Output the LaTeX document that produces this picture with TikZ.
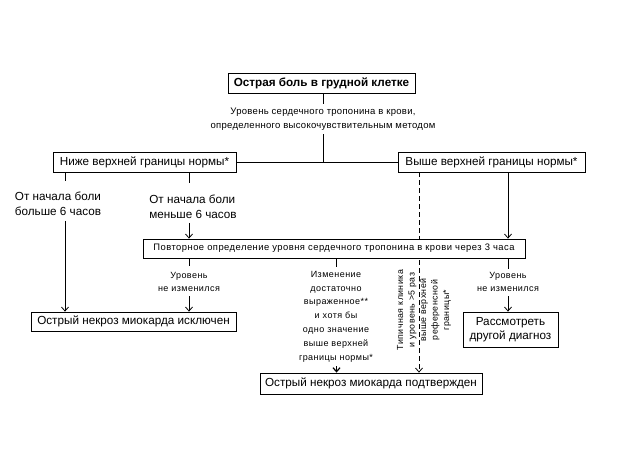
\documentclass[tikz,border=0pt]{standalone}
\usepackage{fontspec}
\setmainfont{Liberation Sans}
\newfontfamily\spacedA[LetterSpace=3]{Liberation Sans}
\newfontfamily\spacedB[LetterSpace=5]{Liberation Sans}
\usetikzlibrary{arrows.meta,backgrounds}
\newcommand\fbig{\fontsize{11.7}{14.5}\selectfont}
\newcommand\fmid{\spacedA\fontsize{9.5}{14}\selectfont}
\newcommand\frep{\spacedB\fontsize{9.4}{14}\selectfont}
\newcommand\fsml{\spacedB\fontsize{9}{13.8}\selectfont}
\newcommand\frot{\spacedB\fontsize{8.8}{11.5}\selectfont}
\begin{document}
\begin{tikzpicture}[x=1pt,y=-1pt,
  box/.style={draw,line width=0.8pt,fill=white,inner sep=0pt,font=\fbig},
  lbl/.style={align=center,inner sep=0pt},
  ln/.style={line width=0.8pt},
  arr/.style={line width=0.8pt,-{Straight Barb[length=4pt,width=7pt,line width=0.8pt]}},
  thick2/.style={line width=1.6pt}]
\useasboundingbox (0,0) rectangle (623,467);
% boxes
\node[box,minimum width=187pt,minimum height=20pt,font=\fbig\bfseries] (top) at (321.5,83) {Острая боль в грудной клетке};
\node[lbl,font=\fmid,inner ysep=4pt] (q) at (323,119) {Уровень сердечного тропонина в крови,\\определенного высокочувствительным методом};
\node[box,minimum width=183pt,minimum height=20pt] (low) at (144.5,162) {Ниже верхней границы нормы*};
\node[box,minimum width=187pt,minimum height=20pt] (high) at (491.5,162) {Выше верхней границы нормы*};
\node[box,minimum width=205pt,minimum height=19pt] (excl) at (133.5,321.5) {Острый некроз миокарда исключен};
\node[box,minimum width=95pt,minimum height=35pt,align=center] (other) at (510.5,329.5) {Рассмотреть\\другой диагноз};
\node[box,minimum width=222pt,minimum height=21pt] (conf) at (371,383.5) {Острый некроз миокарда подтвержден};
% labels
\node[lbl,align=left,font=\fbig] (t1) at (58,204) {От начала боли\\больше 6 часов};
\node[lbl,align=left,font=\fbig] (t2) at (193,207) {От начала боли\\меньше 6 часов};
\node[lbl,font=\fsml] (u1) at (189,282) {Уровень\\не изменился};
\node[lbl,font=\fsml] (u2) at (508,282) {Уровень\\не изменился};
\node[lbl,font=\fsml] (mid) at (336,316.5) {Изменение\\достаточно\\выраженное**\\и хотя бы\\одно значение\\выше верхней\\границы нормы*};
\node[lbl,font=\frot,rotate=90] (rot) at (424,310) {Типичная клиника\\и уровень >5 раз\\выше верхней\\референсной\\границы*};
% x guides
\coordinate (xa) at (65,0);
\coordinate (xb) at (189,0);
\coordinate (xc) at (336.5,0);
\coordinate (xd) at (419,0);
\coordinate (xe) at (508,0);
\coordinate (j) at (323.5,162);
% dashed line under the repeat box
\begin{scope}[on background layer]
\draw[arr,dashed,dash pattern=on 5pt off 3pt] (high.south -| xd) -- (conf.north -| xd);
\end{scope}
\node[box,minimum width=382pt,minimum height=19pt,font=\frep] (rep) at (334,248.5) {Повторное определение уровня сердечного тропонина в крови через 3 часа};
% connectors
\draw[ln] (top.south -| j) -- (q.north -| j);
\draw[ln] (q.south -| j) -- (j);
\draw[ln] (low.east) -- (high.west);
\draw[ln] (low.south -| xa) -- ([yshift=11pt]t1.north -| xa);
\draw[arr] ([yshift=-5pt]t1.south -| xa) -- (excl.north -| xa);
\draw[ln] (low.south -| xb) -- ([yshift=12pt]t2.north -| xb);
\draw[arr] ([yshift=-4pt]t2.south -| xb) -- (rep.north -| xb);
\draw[arr] (high.south -| xe) -- (rep.north -| xe);
\draw[ln] (rep.south -| xb) -- ([yshift=6pt]u1.north -| xb);
\draw[arr] ([yshift=-4pt]u1.south -| xb) -- (excl.north -| xb);
\draw[thick2] (rep.south -| xc) -- ([yshift=4pt]mid.north -| xc);
\draw[thick2,-{Straight Barb[length=4pt,width=7pt,line width=1.2pt]}] ([yshift=-4pt]mid.south -| xc) -- (conf.north -| xc);
\draw[ln] (rep.south -| xe) -- ([yshift=3pt]u2.north -| xe);
\draw[arr] ([yshift=-4pt]u2.south -| xe) -- (other.north -| xe);
\end{tikzpicture}
\end{document}
